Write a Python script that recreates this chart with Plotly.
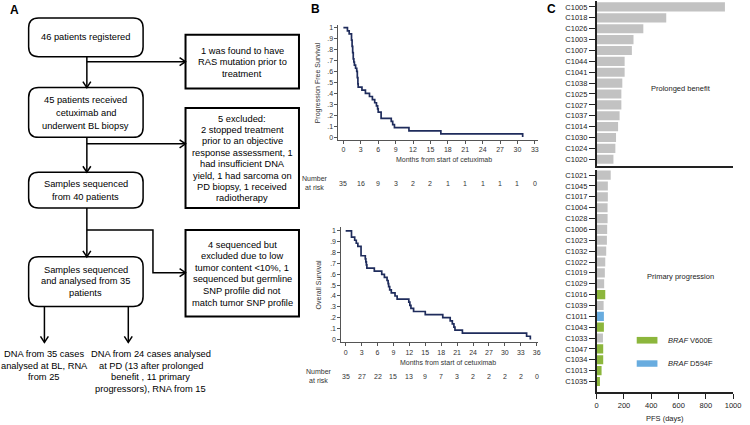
import plotly.graph_objects as go

W, H = 750, 425
FONT = "Arial"


def X(px):
    return px / W


def Y(py):
    return 1 - py / H


# ---------------- Panel B data (Kaplan-Meier step points) ----------------
pfs_months = [0, 0.7, 1.0, 1.4, 1.5, 1.6, 1.7, 1.8, 1.9, 2.1, 2.3, 2.4, 2.5, 2.55,
              3.2, 3.8, 4.5, 5.0, 5.4, 5.7, 5.9, 6.0, 6.5, 8.25, 8.5, 8.8, 11.3, 16.8, 30.9]
pfs_surv = [1.0, 0.971, 0.943, 0.886, 0.829, 0.771, 0.714, 0.686, 0.657, 0.629, 0.600, 0.543, 0.486, 0.457,
            0.429, 0.400, 0.371, 0.343, 0.314, 0.286, 0.257, 0.229, 0.171, 0.143, 0.114, 0.086, 0.057, 0.029, 0.0]

os_months = [0, 1.1, 1.7, 2.0, 2.3, 2.9, 3.7, 3.8, 3.9, 4.0, 5.4, 6.8, 7.3, 7.8, 8.0, 8.1, 8.3, 8.6,
             9.3, 9.7, 11.9, 12.1, 12.3, 12.8, 15.0, 18.3, 19.7, 20.1, 20.4, 20.6, 22.0, 34.1, 34.8]
os_surv = [1.0, 0.943, 0.914, 0.886, 0.857, 0.771, 0.743, 0.714, 0.686, 0.657, 0.629, 0.600, 0.571, 0.543,
           0.514, 0.486, 0.457, 0.429, 0.400, 0.371, 0.343, 0.314, 0.286, 0.257, 0.229, 0.200, 0.171,
           0.143, 0.114, 0.086, 0.057, 0.029, 0.0]

pfs_risk_months = [0, 3, 6, 9, 12, 15, 18, 21, 24, 27, 30, 33]
pfs_at_risk = [35, 16, 9, 3, 2, 2, 1, 1, 1, 1, 1, 0]
os_risk_months = [0, 3, 6, 9, 12, 15, 18, 21, 24, 27, 30, 33, 36]
os_at_risk = [35, 27, 22, 15, 13, 9, 7, 3, 2, 2, 2, 2, 0]

km_yticks = [0, 0.1, 0.2, 0.3, 0.4, 0.5, 0.6, 0.7, 0.8, 0.9, 1.0]
km_yticklabels = ["0", ".1", ".2", ".3", ".4", ".5", ".6", ".7", ".8", ".9", "1"]

# ---------------- Panel C data ----------------
prolonged_ids = ["C1005", "C1018", "C1026", "C1003", "C1007", "C1044", "C1041", "C1038",
                 "C1025", "C1027", "C1037", "C1014", "C1030", "C1024", "C1020"]
prolonged_pfs = [940, 510, 342, 270, 258, 205, 205, 188, 181, 181, 168, 157, 142, 137, 123]

primary_ids = ["C1021", "C1045", "C1017", "C1004", "C1028", "C1006", "C1023", "C1032", "C1022",
               "C1019", "C1029", "C1016", "C1039", "C1011", "C1043", "C1033", "C1047", "C1034",
               "C1013", "C1035"]
primary_pfs = [103, 82, 82, 80, 80, 77, 75, 70, 63, 60, 55, 63, 51, 53, 53, 46, 48, 48, 36, 24]
primary_braf = ["", "", "", "", "", "", "", "", "", "", "", "V600E", "", "D594F", "V600E", "",
                "V600E", "V600E", "V600E", "V600E"]
pfs_ticks = [0, 200, 400, 600, 800, 1000]

GREY = "#c2c2c2"
GREEN = "#8cb63c"
BLUE = "#68acdf"
NAVY = "#1f2c5c"
braf_colors = {"": GREY, "V600E": GREEN, "D594F": BLUE}

fig = go.Figure()

# KM curves
fig.add_trace(go.Scatter(x=pfs_months, y=pfs_surv, mode="lines", line=dict(shape="hv", color=NAVY, width=1.7),
                         xaxis="x", yaxis="y", hoverinfo="skip"))
fig.add_trace(go.Scatter(x=os_months, y=os_surv, mode="lines", line=dict(shape="hv", color=NAVY, width=1.7),
                         xaxis="x2", yaxis="y2", hoverinfo="skip"))

# Bars
fig.add_trace(go.Bar(x=prolonged_pfs, y=prolonged_ids, orientation="h", marker=dict(color=GREY, line=dict(width=0)),
                     xaxis="x3", yaxis="y3", hoverinfo="skip"))
fig.add_trace(go.Bar(x=primary_pfs, y=primary_ids, orientation="h",
                     marker=dict(color=[braf_colors[b] for b in primary_braf], line=dict(width=0)),
                     xaxis="x4", yaxis="y4", hoverinfo="skip"))

km_tickfont = dict(family=FONT, size=7, color="#333")
km_axis = dict(showline=True, linecolor="#555", linewidth=1, ticks="outside", ticklen=3, tickwidth=1,
               tickcolor="#555", showgrid=False, zeroline=False, tickfont=km_tickfont)

layout = dict(
    width=W, height=H, margin=dict(l=0, r=0, t=0, b=0), autosize=False,
    paper_bgcolor="white", plot_bgcolor="white", showlegend=False, bargap=0.16,
    font=dict(family=FONT),
    xaxis=dict(domain=[X(341), X(543)], range=[-0.85, 33.5], anchor="y",
               tickvals=pfs_risk_months, **km_axis),
    yaxis=dict(domain=[Y(139.5), Y(24)], range=[-0.025, 1.025], anchor="x",
               tickvals=km_yticks, ticktext=km_yticklabels, **km_axis),
    xaxis2=dict(domain=[X(344), X(543)], range=[-0.8, 36.2], anchor="y2",
                tickvals=os_risk_months, **km_axis),
    yaxis2=dict(domain=[Y(343), Y(227.5)], range=[-0.0275, 1.032], anchor="x2",
                tickvals=km_yticks, ticktext=km_yticklabels, **km_axis),
    xaxis3=dict(domain=[X(602.7), X(741)], range=[0, 1000], anchor="y3", showline=True, linecolor="#222",
                linewidth=1.5, showticklabels=False, ticks="", showgrid=False, zeroline=False),
    yaxis3=dict(domain=[Y(165.7), Y(0.5)], type="category", categoryorder="array", categoryarray=prolonged_ids,
                range=[14.61, -0.5], anchor="x3", showline=True, linecolor="#222", linewidth=1.5,
                ticks="outside", ticklen=6, tickwidth=1.2, tickcolor="#222", showgrid=False,
                tickfont=dict(family=FONT, size=7.5, color="#222")),
    xaxis4=dict(domain=[X(602.7), X(741)], range=[0, 1000], anchor="y4", showline=True, linecolor="#222",
                linewidth=1.5, tickvals=pfs_ticks, ticks="outside", ticklen=5, tickwidth=1.2, tickcolor="#222",
                showgrid=False, zeroline=False, tickfont=dict(family=FONT, size=7.5, color="#222")),
    yaxis4=dict(domain=[Y(393.3), Y(169.5)], type="category", categoryorder="array", categoryarray=primary_ids,
                range=[20.01, -0.5], anchor="x4", showline=True, linecolor="#222", linewidth=1.5,
                ticks="outside", ticklen=6, tickwidth=1.2, tickcolor="#222", showgrid=False,
                tickfont=dict(family=FONT, size=7.5, color="#222")),
)
fig.update_layout(**layout)

shapes = []
annotations = []


def path_from(points, closed=False):
    s = "M " + " L ".join(f"{X(px):.5f},{Y(py):.5f}" for px, py in points)
    return s + (" Z" if closed else "")


def rrect(x0, y0, x1, y1, r):
    p = lambda a, b: f"{X(a):.5f},{Y(b):.5f}"
    return (f"M {p(x0 + r, y0)} L {p(x1 - r, y0)} Q {p(x1, y0)} {p(x1, y0 + r)} "
            f"L {p(x1, y1 - r)} Q {p(x1, y1)} {p(x1 - r, y1)} L {p(x0 + r, y1)} "
            f"Q {p(x0, y1)} {p(x0, y1 - r)} L {p(x0, y0 + r)} Q {p(x0, y0)} {p(x0 + r, y0)} Z")


def add_path(path, width=1.5, color="black", fill=None):
    d = dict(type="path", xref="paper", yref="paper", path=path, line=dict(color=color, width=width))
    if fill:
        d["fillcolor"] = fill
    shapes.append(d)


def arrow(points, direction):
    add_path(path_from(points), 1.5)
    x, y = points[-1]
    if direction == "down":
        add_path(path_from([(x - 4, y - 6), (x, y), (x + 4, y - 6)]), 1.5)
    else:
        add_path(path_from([(x - 6, y - 4), (x, y), (x - 6, y + 4)]), 1.5)


def text(px, py, s, size=9.3, color="black", xanchor="center", bold=False, angle=0):
    if bold:
        s = f"<b>{s}</b>"
    annotations.append(dict(x=X(px), y=Y(py), xref="paper", yref="paper", text=s, showarrow=False,
                            xanchor=xanchor, yanchor="middle", textangle=angle,
                            font=dict(family=FONT, size=size, color=color)))


def lines(cx, ys, texts, size=9.3):
    for yy, t in zip(ys, texts):
        text(cx, yy, t, size=size)


# ---------------- Panel A: flowchart ----------------
text(13, 9, "A", size=12, bold=True)
text(318, 8, "B", size=12, bold=True)
text(557, 8, "C", size=12, bold=True)

add_path(rrect(27, 17, 143, 56, 10), 1.5)
add_path(rrect(27, 87, 143, 137, 10), 1.5)
add_path(rrect(27, 172, 143, 208, 10), 1.5)
add_path(rrect(27, 257, 143, 307, 10), 1.5)
add_path(path_from([(186, 34), (301, 34), (301, 88), (186, 88)], True), 2)
add_path(path_from([(186, 107.5), (301, 107.5), (301, 208), (186, 208)], True), 2)
add_path(path_from([(186, 230), (301, 230), (301, 317), (186, 317)], True), 2)

arrow([(86, 56), (86, 87)], "down")
arrow([(86, 137), (86, 172)], "down")
arrow([(86, 208), (86, 257)], "down")
arrow([(86, 61), (186, 61)], "right")
arrow([(86, 143.5), (186, 143.5)], "right")
arrow([(86, 230), (153, 230), (153, 273), (186, 273)], "right")
arrow([(43, 307), (43, 343)], "down")
arrow([(128, 307), (128, 343)], "down")

lines(85, [36], ["46 patients registered"])
lines(85, [99.3, 112.6, 125.8], ["45 patients received", "cetuximab and", "underwent BL biopsy"])
lines(85, [183.5, 196.7], ["Samples sequenced", "from 40 patients"])
lines(85, [270, 281.7, 293.3], ["Samples sequenced", "and analysed from 35", "patients"])
lines(243.5, [50, 61.5, 73], ["1 was found to have", "RAS mutation prior to", "treatment"])
lines(243.5, [118.3 + 11.43 * i for i in range(8)],
      ["5 excluded:", "2 stopped treatment", "prior to an objective", "response assessment, 1",
       "had insufficient DNA", "yield, 1 had sarcoma on", "PD biopsy, 1 received", "radiotherapy"])
lines(243.5, [245 + 11.6 * i for i in range(6)],
      ["4 sequenced but", "excluded due to low", "tumor content &lt;10%, 1", "sequenced but germline",
       "SNP profile did not", "match tumor SNP profile"])
lines(43, [355, 366.3, 377.6], ["DNA from 35 cases", "analysed at BL, RNA", "from 25"])
lines(151, [355, 366.5, 378, 389.5], ["DNA from 24 cases analysed", "at PD (13 after prolonged",
                                       "benefit , 11 primary", "progressors), RNA from 15"])

# ---------------- Panel B: KM annotations ----------------
text(320, 82, "Progression Free Survival", size=7, color="#333", angle=-90)
text(448, 159, "Months from start of cetuximab", size=7, color="#333")
text(317, 182.5, "Number<br>at risk", size=7, color="#333")
for m, n in zip(pfs_risk_months, pfs_at_risk):
    annotations.append(dict(x=m, y=Y(183), xref="x", yref="paper", text=str(n), showarrow=False,
                            xanchor="center", yanchor="middle", font=dict(family=FONT, size=7, color="#333")))

text(321, 285, "Overall Survival", size=7, color="#333", angle=-90)
text(452, 363, "Months from start of cetuximab", size=7, color="#333")
text(321, 376.5, "Number<br>at risk", size=7, color="#333")
for m, n in zip(os_risk_months, os_at_risk):
    annotations.append(dict(x=m, y=Y(377), xref="x2", yref="paper", text=str(n), showarrow=False,
                            xanchor="center", yanchor="middle", font=dict(family=FONT, size=7, color="#333")))

# ---------------- Panel C annotations ----------------
text(688, 88, "Prolonged benefit", size=7.5, color="#222")
text(688, 277, "Primary progression", size=7.5, color="#222")
text(672, 419, "PFS (days)", size=7.5, color="#222")
add_path(path_from([(643.3, 337.5), (664.3, 337.5), (664.3, 344.2), (643.3, 344.2)], True), 0, GREEN, GREEN)
add_path(path_from([(643.3, 361), (664.3, 361), (664.3, 367.5), (643.3, 367.5)], True), 0, BLUE, BLUE)
text(673.3, 341, "<i>BRAF</i> V600E", size=7.5, color="#222", xanchor="left")
text(673.3, 364.3, "<i>BRAF</i> D594F", size=7.5, color="#222", xanchor="left")

fig.update_layout(shapes=shapes, annotations=annotations)
fig.write_html("out.html", config={"displayModeBar": False},
               post_script="document.body.style.margin='0px';")
